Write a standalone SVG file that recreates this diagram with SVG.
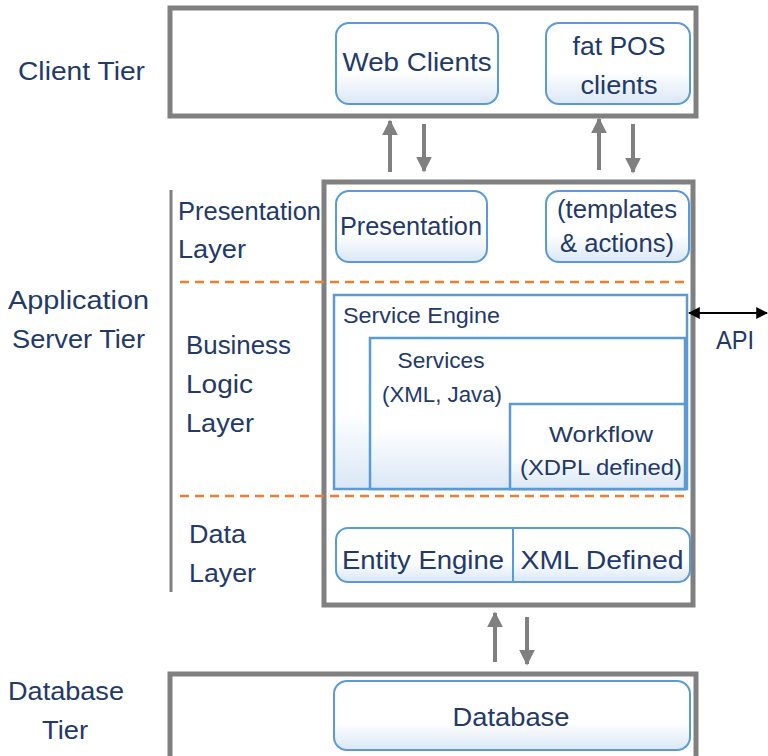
<svg xmlns="http://www.w3.org/2000/svg" width="768" height="756" viewBox="0 0 768 756">
<style>
text{font-family:"Liberation Sans","DejaVu Sans",sans-serif;fill:#22396a}
.tier{font-size:25px}
.lbl{font-size:25px}
.nt{font-size:26px;text-anchor:middle}
.st{font-size:22px}
.box{fill:#fff;stroke:#808080;stroke-width:5}
.node{fill:url(#g);stroke:#5b9bd5;stroke-width:2}
.sq{fill:url(#g);stroke:#5b9bd5;stroke-width:2.5}
.dash{stroke:#ed7d31;stroke-width:2.5;stroke-dasharray:9 6;fill:none}
.ga{stroke:#808080;stroke-width:4;fill:none;marker-end:url(#ah)}
</style>
<defs>
<linearGradient id="g" x1="0" y1="0" x2="0" y2="1">
<stop offset="0" stop-color="#fff"/>
<stop offset="0.6" stop-color="#fff"/>
<stop offset="1" stop-color="#dae7f6"/>
</linearGradient>
<marker id="ah" viewBox="0 0 10 10" refX="9" refY="5" markerWidth="4" markerHeight="4" orient="auto" markerUnits="strokeWidth">
<path d="M0,0 L10,5 L0,10 z" fill="#808080"/>
</marker>
<marker id="bk" viewBox="0 0 10 10" refX="9" refY="5" markerWidth="12" markerHeight="12" orient="auto-start-reverse" markerUnits="userSpaceOnUse">
<path d="M0,0 L10,5 L0,10 z" fill="#000"/>
</marker>
</defs>

<g id="labels">
<text class="tier" x="18" y="80" textLength="127" lengthAdjust="spacingAndGlyphs">Client Tier</text>
<text class="tier" x="8" y="309" textLength="141" lengthAdjust="spacingAndGlyphs">Application</text>
<text class="tier" x="12" y="348" textLength="133" lengthAdjust="spacingAndGlyphs">Server Tier</text>
<text class="tier" x="8" y="700" textLength="116" lengthAdjust="spacingAndGlyphs">Database</text>
<text class="tier" x="42" y="739" textLength="46" lengthAdjust="spacingAndGlyphs">Tier</text>
<line x1="171" y1="190" x2="171" y2="592" stroke="#808080" stroke-width="3"/>
<text class="lbl" x="178" y="220" textLength="143" lengthAdjust="spacingAndGlyphs">Presentation</text>
<text class="lbl" x="178" y="258" textLength="68" lengthAdjust="spacingAndGlyphs">Layer</text>
<text class="lbl" x="186" y="354" textLength="105" lengthAdjust="spacingAndGlyphs">Business</text>
<text class="lbl" x="186" y="393" textLength="67" lengthAdjust="spacingAndGlyphs">Logic</text>
<text class="lbl" x="186" y="432" textLength="68" lengthAdjust="spacingAndGlyphs">Layer</text>
<text class="lbl" x="189" y="543" textLength="57" lengthAdjust="spacingAndGlyphs">Data</text>
<text class="lbl" x="189" y="582" textLength="67" lengthAdjust="spacingAndGlyphs">Layer</text>
<text class="lbl" x="716" y="349" textLength="38" lengthAdjust="spacingAndGlyphs">API</text>
</g>

<g id="client-tier">
<rect class="box" x="170" y="8" width="526" height="108"/>
</g>
<g id="web-clients">
<rect class="node" x="336" y="23" width="162" height="81" rx="13"/>
<text class="nt" x="417" y="71" textLength="149" lengthAdjust="spacingAndGlyphs">Web Clients</text>
</g>
<g id="fat-pos-clients">
<rect class="node" x="546" y="23" width="144" height="81" rx="13"/>
<text class="nt" x="619" y="55" textLength="93" lengthAdjust="spacingAndGlyphs">fat POS</text>
<text class="nt" x="619" y="94" textLength="77" lengthAdjust="spacingAndGlyphs">clients</text>
</g>

<g id="app-server-tier">
<rect class="box" x="324" y="182" width="369" height="423"/>
</g>
<g id="presentation">
<rect class="node" x="336" y="191" width="151" height="71" rx="13"/>
<text class="nt" x="411" y="235" textLength="142" lengthAdjust="spacingAndGlyphs">Presentation</text>
</g>
<g id="templates-actions">
<rect class="node" x="546" y="191" width="143" height="71" rx="13"/>
<text class="nt" x="617" y="218" textLength="120" lengthAdjust="spacingAndGlyphs">(templates</text>
<text class="nt" x="617" y="252" textLength="114" lengthAdjust="spacingAndGlyphs">&amp; actions)</text>
</g>
<g id="layer-dividers">
<line class="dash" x1="180" y1="282" x2="690" y2="282"/>
<line class="dash" x1="180" y1="496" x2="690" y2="496"/>
</g>
<g id="service-engine">
<rect class="sq" x="334" y="295" width="353" height="194"/>
<text class="st" x="343" y="323" textLength="157" lengthAdjust="spacingAndGlyphs">Service Engine</text>
</g>
<g id="services">
<rect class="sq" x="370" y="338" width="315" height="151"/>
<text class="st" x="441" y="368" text-anchor="middle" textLength="87" lengthAdjust="spacingAndGlyphs">Services</text>
<text class="st" x="442" y="402" text-anchor="middle" textLength="120" lengthAdjust="spacingAndGlyphs">(XML, Java)</text>
</g>
<g id="workflow">
<rect class="sq" x="510" y="404" width="175" height="85"/>
<text class="st" x="601" y="442" text-anchor="middle" textLength="104" lengthAdjust="spacingAndGlyphs">Workflow</text>
<text class="st" x="601" y="475" text-anchor="middle" textLength="162" lengthAdjust="spacingAndGlyphs">(XDPL defined)</text>
</g>
<g id="entity-engine">
<rect class="node" x="336" y="528" width="354" height="54" rx="12"/>
<line x1="513" y1="527" x2="513" y2="582" stroke="#5b9bd5" stroke-width="2"/>
<text class="nt" x="423" y="569" textLength="162" lengthAdjust="spacingAndGlyphs">Entity Engine</text>
<text class="nt" x="602" y="569" textLength="163" lengthAdjust="spacingAndGlyphs">XML Defined</text>
</g>

<g id="database-tier">
<rect class="box" x="170" y="674" width="526" height="90"/>
</g>
<g id="database">
<rect class="node" x="334" y="681" width="356" height="69" rx="13"/>
<text class="nt" x="511" y="726" textLength="117" lengthAdjust="spacingAndGlyphs">Database</text>
</g>

<g id="connectors">
<line class="ga" x1="390" y1="172" x2="390" y2="121"/>
<line class="ga" x1="424" y1="124" x2="424" y2="171"/>
<line class="ga" x1="599" y1="170" x2="599" y2="119"/>
<line class="ga" x1="633" y1="124" x2="633" y2="172"/>
<line class="ga" x1="495" y1="662" x2="495" y2="613"/>
<line class="ga" x1="527" y1="617" x2="527" y2="664"/>
<line x1="689" y1="313" x2="767" y2="313" stroke="#000" stroke-width="2" marker-start="url(#bk)" marker-end="url(#bk)"/>
</g>
</svg>
